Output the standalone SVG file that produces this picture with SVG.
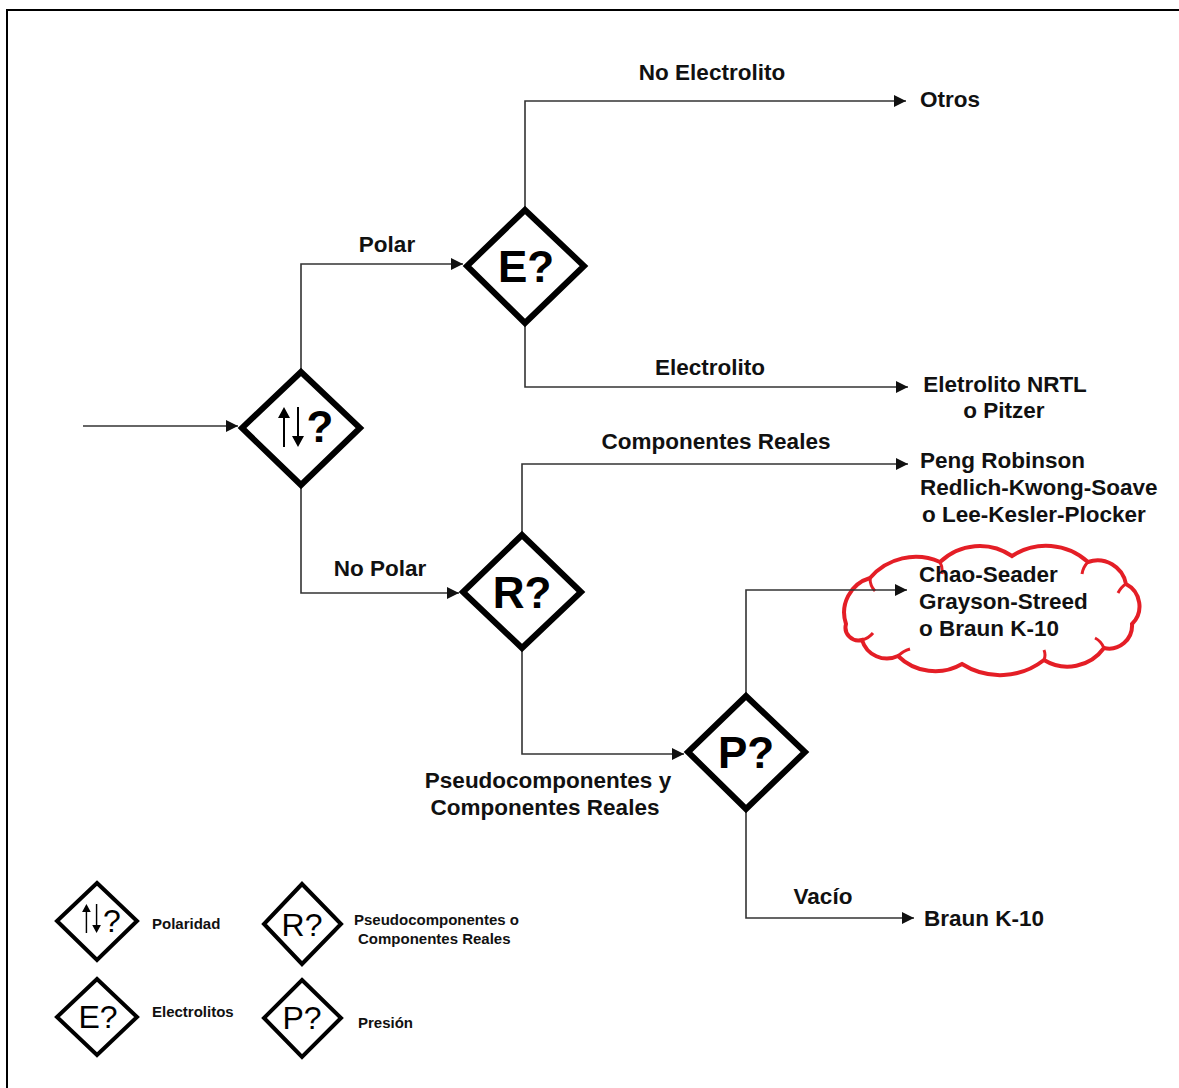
<svg xmlns="http://www.w3.org/2000/svg" width="1179" height="1088" viewBox="0 0 1179 1088">
  <defs>
    <marker id="arrow" markerUnits="userSpaceOnUse" markerWidth="12" markerHeight="12" refX="12" refY="6" orient="auto">
      <path d="M0,0 L12,6 L0,12 z" fill="#111"/>
    </marker>
    <!-- up/down arrow pair used inside the polarity diamond -->
    <symbol id="updown" viewBox="0 0 26 40" overflow="visible">
      <path d="M6,40 V8 M20,0 V32" stroke="#000" stroke-width="2"/>
      <path d="M0,11 L6,0 L12,11 z M14,29 L20,40 L26,29 z" fill="#000"/>
    </symbol>
    <style>
      .lbl { font-family: "Liberation Sans", Arial, sans-serif; font-weight: bold; font-size: 22.5px; fill: #111; }
      .mid { text-anchor: middle; }
      .dia { fill: #fff; stroke: #000; stroke-width: 6; stroke-linejoin: miter; }
      .dtxt { font-family: "Liberation Sans", Arial, sans-serif; font-weight: bold; font-size: 44px; fill: #000; text-anchor: middle; }
      .leg { fill: #fff; stroke: #000; stroke-width: 4; stroke-linejoin: miter; }
      .ltxt { font-family: "Liberation Sans", Arial, sans-serif; font-size: 32px; fill: #000; text-anchor: middle; }
      .lsm { font-family: "Liberation Sans", Arial, sans-serif; font-weight: bold; font-size: 15px; fill: #111; }
      .conn { fill: none; stroke: #333; stroke-width: 1.6; }
      .cloud { stroke: #e41e26; }
    </style>
  </defs>

  <rect x="0" y="0" width="1179" height="1088" fill="#fff"/>
  <!-- frame -->
  <path d="M7,1088 V10 H1179" fill="none" stroke="#000" stroke-width="2"/>

  <!-- cloud behind the high-pressure result -->
  <g id="node-cloud">
    <path class="cloud" d="M846,624 A36,36 0 0 1 870,578 A60,60 0 0 1 940,562 A57,57 0 0 1 1012,556 A62,62 0 0 1 1088,562 A29,29 0 0 1 1126,584 A25,25 0 0 1 1132,624 A23,23 0 0 1 1104,648 A45,45 0 0 1 1044,660 A71,71 0 0 1 962,664 A53,53 0 0 1 898,656 A26,26 0 0 1 862,640 A13,13 0 0 1 846,624 z" fill="#fff" stroke-width="4"/>
    <path class="cloud" d="M870,578 q0,8 5,13 M940,562 q3,6 2,12 M1088,562 q-5,5 -6,12 M1126,584 q-5,3 -8,9 M1104,648 q-3,-7 -9,-10 M1044,660 q2,-5 0,-10 M898,656 q5,-5 12,-7 M862,640 q7,-2 11,-7" fill="none" stroke-width="3"/>
  </g>

  <!-- connectors -->
  <g id="connectors" class="conn">
    <path d="M83,426 H238" marker-end="url(#arrow)"/>
    <path d="M301,372 V264 H463" marker-end="url(#arrow)"/>
    <path d="M525,209 V101 H906" marker-end="url(#arrow)"/>
    <path d="M525,324 V387 H908" marker-end="url(#arrow)"/>
    <path d="M301,486 V593 H459" marker-end="url(#arrow)"/>
    <path d="M522,534 V464 H908" marker-end="url(#arrow)"/>
    <path d="M522,649 V754 H684" marker-end="url(#arrow)"/>
    <path d="M746,695 V590 H907" marker-end="url(#arrow)"/>
    <path d="M746,810 V918 H914" marker-end="url(#arrow)"/>
  </g>

  <!-- connector labels -->
  <g id="edge-labels">
    <text class="lbl mid" x="387" y="252">Polar</text>
    <text class="lbl mid" x="712" y="80">No Electrolito</text>
    <text class="lbl mid" x="710" y="375">Electrolito</text>
    <text class="lbl mid" x="380" y="576">No Polar</text>
    <text class="lbl mid" x="716" y="449">Componentes Reales</text>
    <text class="lbl mid" x="548" y="788">Pseudocomponentes y</text>
    <text class="lbl mid" x="545" y="815">Componentes Reales</text>
    <text class="lbl mid" x="823" y="904">Vacío</text>
  </g>

  <!-- decision nodes -->
  <g id="node-polaridad">
    <polygon class="dia" points="301,372 360,428 301,485 242,428"/>
    <use href="#updown" x="278" y="407" width="26" height="40"/>
    <text class="dtxt" x="320" y="442" font-size="40">?</text>
  </g>
  <g id="node-electrolito">
    <polygon class="dia" points="525,210 584,266 525,323 467,266"/>
    <text class="dtxt" x="526" y="282">E?</text>
  </g>
  <g id="node-reales">
    <polygon class="dia" points="522,535 581,592 522,648 463,592"/>
    <text class="dtxt" x="522" y="608">R?</text>
  </g>
  <g id="node-presion">
    <polygon class="dia" points="746,696 805,752 746,809 688,752"/>
    <text class="dtxt" x="746" y="768">P?</text>
  </g>

  <!-- result nodes -->
  <g id="node-otros">
    <text class="lbl" x="920" y="107">Otros</text>
  </g>
  <g id="node-nrtl">
    <text class="lbl mid" x="1005" y="392">Eletrolito NRTL</text>
    <text class="lbl mid" x="1004" y="418">o Pitzer</text>
  </g>
  <g id="node-peng">
    <text class="lbl" x="920" y="468">Peng Robinson</text>
    <text class="lbl" x="920" y="495">Redlich-Kwong-Soave</text>
    <text class="lbl" x="922" y="522">o Lee-Kesler-Plocker</text>
  </g>
  <g id="node-chao">
    <text class="lbl" x="919" y="582">Chao-Seader</text>
    <text class="lbl" x="919" y="609">Grayson-Streed</text>
    <text class="lbl" x="919" y="636">o Braun K-10</text>
  </g>
  <g id="node-braun">
    <text class="lbl" x="924" y="926">Braun K-10</text>
  </g>

  <!-- legend -->
  <g id="legend-polaridad">
    <polygon class="leg" points="97,883 137,921 97,960 57,921"/>
    <use href="#updown" x="82" y="904" width="19" height="29"/>
    <text class="ltxt" x="112" y="932" font-size="28">?</text>
    <text class="lsm" x="152" y="929">Polaridad</text>
  </g>
  <g id="legend-reales">
    <polygon class="leg" points="302,884 341,924 302,964 264,924"/>
    <text class="ltxt" x="302" y="936">R?</text>
    <text class="lsm" x="354" y="925">Pseudocomponentes o</text>
    <text class="lsm" x="358" y="944">Componentes Reales</text>
  </g>
  <g id="legend-electrolito">
    <polygon class="leg" points="97,979 137,1017 97,1055 57,1017"/>
    <text class="ltxt" x="98" y="1028">E?</text>
    <text class="lsm" x="152" y="1017">Electrolitos</text>
  </g>
  <g id="legend-presion">
    <polygon class="leg" points="302,980 341,1018 302,1057 264,1018"/>
    <text class="ltxt" x="302" y="1029">P?</text>
    <text class="lsm" x="358" y="1028">Presión</text>
  </g>
</svg>
